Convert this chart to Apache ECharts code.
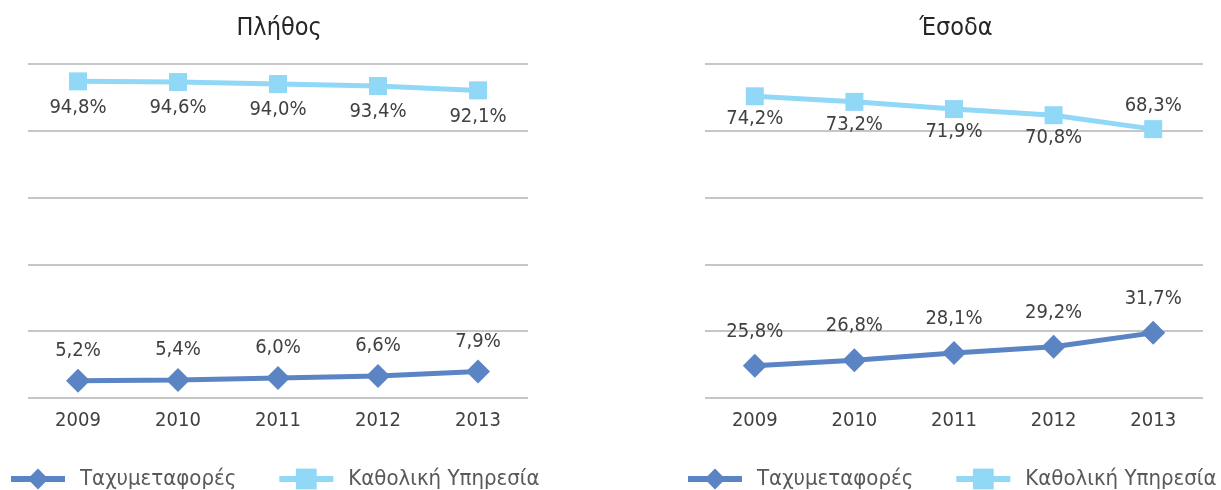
<!DOCTYPE html>
<html>
<head>
<meta charset="utf-8">
<style>
  html, body { margin: 0; padding: 0; background: #fff; }
  #main { width: 1221px; height: 490px; }
</style>
<script src="https://cdn.jsdelivr.net/npm/echarts@6/dist/echarts.min.js"></script>
</head>
<body>
<div id="main"></div>
<script>
// data
const years = ['2009', '2010', '2011', '2012', '2013']
const seriesNames = ['Ταχυμεταφορές', 'Καθολική Υπηρεσία']
const countCourier = [5.2, 5.4, 6.0, 6.6, 7.9]
const countUniversal = [94.8, 94.6, 94.0, 93.4, 92.1]
const revenueCourier = [25.8, 26.8, 28.1, 29.2, 31.7]
const revenueUniversal = [74.2, 73.2, 71.9, 70.8, 68.3]
// label under the point for universal-service revenue, except the last one
const revenueUniversalLabelPos = ['bottom', 'bottom', 'bottom', 'bottom', 'top']

const FONT = "'Liberation Sans Narrow', 'DejaVu Sans Condensed', Roboto, sans-serif"
const DARK = '#5b84c4'
const LIGHT = '#91d8f7'
const TXT = '#404040'

function pct(p) {
  return p.value.toFixed(1).replace('.', ',') + '%'
}

function lineSeries(name, data, xi, yi, opts) {
  return Object.assign({
    name: name,
    type: 'line',
    xAxisIndex: xi,
    yAxisIndex: yi,
    data: data,
    lineStyle: { width: 5 },
    emphasis: { disabled: true },
    animation: false
  }, opts)
}

function courier(data, xi, yi, dist) {
  return lineSeries(seriesNames[0], data, xi, yi, {
    color: DARK, symbol: 'diamond', symbolSize: 24, z: 3,
    label: {
      show: true, formatter: pct, color: TXT, fontFamily: FONT,
      fontSize: 20, position: 'top', distance: dist
    }
  })
}

function universal(data, xi, yi, positions, dist) {
  return lineSeries(seriesNames[1], data.map((v, i) => ({
    value: v,
    label: { position: positions[i] }
  })), xi, yi, {
    color: LIGHT, symbol: 'rect', symbolSize: 18, z: 2,
    label: {
      show: true, formatter: pct, color: TXT, fontFamily: FONT,
      fontSize: 20, distance: dist
    }
  })
}

const grid = [
  { left: 28, width: 500, top: 64, height: 334 },
  { left: 705, width: 498, top: 64, height: 334 }
]

const xAxisBase = {
  type: 'category',
  data: years,
  boundaryGap: true,
  axisLine: { show: false },
  axisTick: { show: false },
  axisLabel: { color: TXT, fontFamily: FONT, fontSize: 20, margin: 13 }
}

const splitLine = { show: true, lineStyle: { color: '#b3b3b3', width: 1.5 } }

const legendBase = {
  top: 468,
  padding: 0,
  width: 540,
  itemWidth: 54,
  itemHeight: 26,
  itemGap: 40,
  lineStyle: { width: 6 },
  textStyle: { color: '#595959', fontFamily: FONT, fontSize: 22, padding: [0, 0, 0, 10] },
  data: seriesNames
}

const titleStyle = { color: '#262626', fontFamily: FONT, fontSize: 25, fontWeight: 'normal' }

const option = {
  backgroundColor: '#fff',
  title: [
    { text: 'Πλήθος', left: 274, top: 11, textAlign: 'center', textStyle: titleStyle },
    { text: 'Έσοδα', left: 951, top: 11, textAlign: 'center', textStyle: titleStyle }
  ],
  legend: [
    Object.assign({ left: 8 }, legendBase),
    Object.assign({ left: 685 }, legendBase)
  ],
  grid: grid,
  xAxis: [
    Object.assign({ gridIndex: 0 }, xAxisBase),
    Object.assign({ gridIndex: 1 }, xAxisBase)
  ],
  yAxis: [
    { type: 'value', gridIndex: 0, min: 0, max: 100, interval: 20,
      axisLabel: { show: false }, axisLine: { show: false }, axisTick: { show: false },
      splitLine: splitLine },
    { type: 'value', gridIndex: 1, min: 20, max: 80,
      axisLabel: { show: false }, axisLine: { show: false }, axisTick: { show: false },
      splitLine: { show: false } },
    // helper axis that only draws the five equal gridline steps of the right panel
    { type: 'value', gridIndex: 1, min: 0, max: 5, interval: 1,
      axisLabel: { show: false }, axisLine: { show: false }, axisTick: { show: false },
      splitLine: splitLine }
  ],
  series: [
    courier(countCourier, 0, 0, 8),
    universal(countUniversal, 0, 0, ['bottom', 'bottom', 'bottom', 'bottom', 'bottom'], 7),
    courier(revenueCourier, 1, 1, 12),
    universal(revenueUniversal, 1, 1, revenueUniversalLabelPos, 4)
  ]
}

const myChart = echarts.init(document.getElementById('main'))
myChart.setOption(option)
</script>
</body>
</html>
